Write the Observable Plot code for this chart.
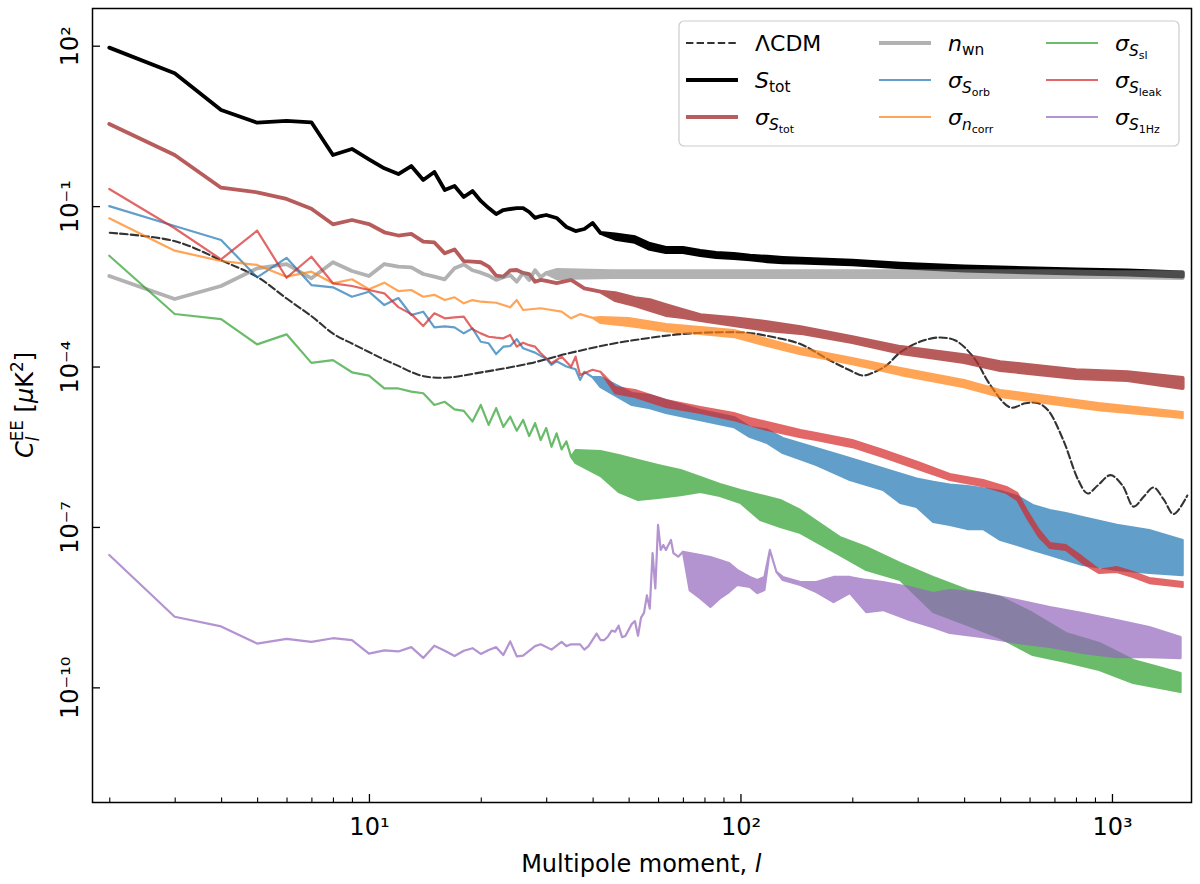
<!DOCTYPE html>
<html><head><meta charset="utf-8">
<script src="https://cdn.jsdelivr.net/npm/d3@7"></script>
<script src="https://cdn.jsdelivr.net/npm/@observablehq/plot@0.6"></script>
<style>
body{margin:0;background:#fff;}
#chart svg{display:block;}
text{white-space:pre;}
</style></head><body><div id="chart"></div>
<script>
// ---------- DATA (C_l^EE in muK^2, multipole l) ----------
// Lambda-CDM theory
const lcdm_l = [2,3,4,5,6,7,8,9,10,11,12,13,14,16,20,27,34,44,56,70,88,104,122,144,174,197,212,223,245,269,304,340,378,423,470,531,583,632,672,738,810,857,912,988,1064,1140,1215,1290,1375,1460,1590];
const lcdm_v = [0.0324,0.0225,0.00982,0.00479,0.00189,0.000881,0.000418,0.000272,0.000189,0.000136,0.000104,8.0e-5,6.73e-5,6.31e-5,7.94e-5,0.000117,0.000177,0.000264,0.000346,0.000417,0.000447,0.000437,0.000363,0.000272,0.000132,8.59e-5,6.93e-5,7.5e-5,0.000104,0.00019,0.000299,0.000356,0.000313,0.000151,4.51e-5,1.75e-5,2.1e-5,2.1e-5,1.53e-5,4.22e-6,7.55e-7,4.32e-7,6.08e-7,9.5e-7,6.08e-7,2.45e-7,3.8e-7,5.6e-7,3.3e-7,1.78e-7,3.95e-7];

// S_tot : low-l values, then high-l band (upper / lower envelope)
const stot_l = [2,3,4,5,6,7,8,9,10,11,12,13,14,15,16,17,18,19,20,21,22,23,24,25,26,27,28,29,30,32,34,36,38,40,42];
const stot_v = [92,30.5,6.27,3.63,3.91,3.69,0.904,1.17,0.75,0.509,0.398,0.562,0.308,0.435,0.2,0.238,0.148,0.191,0.125,0.092,0.0711,0.0845,0.0883,0.092,0.092,0.0776,0.0603,0.0653,0.0682,0.06,0.0407,0.0342,0.0373,0.0483,0.0314];
const stot_bl = [46,52,57,63,70,78,86,96,106,118,130,145,200,270,400,500,800,1100,1550];
const stot_bhi = [0.0295,0.0262,0.0196,0.0165,0.0165,0.0145,0.0134,0.0128,0.0118,0.0113,0.0108,0.0104,0.00952,0.00843,0.00745,0.00712,0.00655,0.00628,0.00575];
const stot_blo = [0.0245,0.0214,0.0158,0.0138,0.0138,0.0121,0.0111,0.0107,0.0101,0.0093,0.0089,0.0088,0.00815,0.00712,0.00625,0.00597,0.00548,0.00524,0.00481];

// sigma_{S_tot}
const sst_l = [2,3,4,5,6,7,8,9,10,11,12,13,14,15,16,17,18,19,20,21,22,23,24,25,26,27,28,29,30,32,35,38,42];
const sst_v = [3.44,0.904,0.221,0.181,0.136,0.0891,0.0457,0.055,0.0462,0.0324,0.0282,0.0302,0.0216,0.0209,0.0131,0.0155,0.00933,0.00912,0.00891,0.00741,0.00501,0.00479,0.00631,0.00638,0.00562,0.00537,0.00385,0.00417,0.00398,0.00363,0.00417,0.0029,0.00251];
const sst_bl = [46,52,57,63,70,78,96,118,145,200,270,400,500,800,1100,1550];
const sst_bhi = [0.00237,0.00191,0.00175,0.00141,0.00114,0.000918,0.000807,0.000679,0.000548,0.000356,0.000232,0.000164,0.000121,8.59e-5,7.89e-5,6.10e-5];
const sst_blo = [0.00175,0.00141,0.00114,0.000918,0.000843,0.000741,0.000597,0.000482,0.000424,0.000287,0.000179,0.000121,8.59e-5,6.10e-5,5.58e-5,3.96e-5];

// n_wn
const nwn_l = [2,3,4,5,6,7,8,9,10,11,12,13,14,15,16,17,18,19,20,21,22,23,24,25,26,27,28,29,30];
const nwn_v = [0.00493,0.00183,0.00321,0.00686,0.00826,0.00447,0.00891,0.00612,0.00493,0.00826,0.00736,0.00716,0.00537,0.00479,0.00427,0.00686,0.00813,0.00631,0.00569,0.00501,0.00417,0.00468,0.00513,0.00385,0.00562,0.00417,0.00631,0.00468,0.00562];
const nwn_bl = [32,45,60,80,110,150,250,400,700,1000,1550];
const nwn_bhi = [0.00638,0.00611,0.00611,0.00611,0.00611,0.00611,0.00611,0.00611,0.00611,0.00585,0.00585];
const nwn_blo = [0.00452,0.00472,0.00472,0.00472,0.00472,0.00472,0.00472,0.00472,0.00472,0.00472,0.00452];

// sigma_{S_orb}
const sorb_l = [2,3,4,5,6,7,8,9,10,11,12,13,14,15,16,17,18,19,20,21,22,23,24,25,26,27,28,29,30,31,32,34,36,37,38,40];
const sorb_v = [0.1,0.0425,0.0232,0.00466,0.0108,0.00334,0.00303,0.00202,0.00251,0.00141,0.00191,0.00092,0.00106,0.000541,0.000562,0.000541,0.000418,0.000518,0.000291,0.000272,0.000171,0.000235,0.000242,0.000324,0.000219,0.0002,0.000182,0.000158,0.000141,0.000107,0.000126,0.0001,8.91e-5,5.62e-5,7.94e-5,6.31e-5];
const sorb_bl = [42,51,57,63,78,96,106,118,130,160,197,242,269,298,330,366,408,450,501,556,612,680,751,833,1030,1260,1550];
const sorb_bhi = [6.35e-5,3.19e-5,2.93e-5,2.36e-5,1.53e-5,1.14e-5,7.4e-6,6.6e-6,4.6e-6,3.0e-6,1.95e-6,1.25e-6,1.0e-6,8.0e-7,7.0e-7,6.2e-7,5.8e-7,5.3e-7,4.7e-7,3.8e-7,2.57e-7,2.07e-7,1.82e-7,1.53e-7,1.09e-7,8.77e-8,5.70e-8];
const sorb_blo = [4.13e-5,1.91e-5,1.67e-5,1.35e-5,9.98e-6,7.38e-6,4.80e-6,3.71e-6,2.41e-6,1.44e-6,7.55e-7,4.91e-7,2.81e-7,2.36e-7,1.24e-7,1.09e-7,9.14e-8,9.14e-8,5.70e-8,4.59e-8,3.71e-8,2.99e-8,2.41e-8,1.94e-8,1.57e-8,1.38e-8,1.26e-8];

// sigma_{n_corr}
const ncorr_l = [2,3,4,5,6,7,8,9,10,11,12,13,14,15,16,17,18,19,20,22,24,25,26,29,31,33,35,37,40];
const ncorr_v = [0.0592,0.0147,0.0094,0.00794,0.00479,0.00594,0.0036,0.00428,0.00278,0.0037,0.00258,0.0027,0.00202,0.00219,0.00175,0.00197,0.00152,0.00175,0.00163,0.00156,0.00128,0.00175,0.00114,0.00123,0.00114,0.00106,0.000798,0.000955,0.000813];
const ncorr_bl = [42,50,63,78,96,118,145,200,270,400,500,920,1550];
const ncorr_bhi = [0.000843,0.000807,0.000624,0.000548,0.000482,0.000327,0.000222,0.000144,9.38e-5,5.58e-5,3.63e-5,2.07e-5,1.41e-5];
const ncorr_blo = [0.000652,0.000573,0.000461,0.000406,0.000356,0.000242,0.000171,0.000111,6.93e-5,4.13e-5,2.69e-5,1.53e-5,1.09e-5];

// sigma_{S_sl}
const ssl_l = [2,3,4,5,6,7,8,9,10,11,12,13,14,15,16,17,18,19,20,21,22,23,24,25,26,27,28,29,30,31,32,33,34,35];
const ssl_v = [0.0118,0.000959,0.000773,0.00026,0.0004,0.000117,0.000132,7.8e-5,6.75e-5,3.89e-5,3.89e-5,3.39e-5,3.16e-5,1.91e-5,2.19e-5,1.58e-5,1.48e-5,9.33e-6,1.91e-5,8.13e-6,1.66e-5,7.41e-6,1.15e-5,6.31e-6,1.0e-5,5.01e-6,8.71e-6,4.22e-6,7.08e-6,3.16e-6,5.62e-6,2.82e-6,3.98e-6,2.04e-6];
const ssl_bl = [36,42,47,53,60,69,78,88,100,113,128,145,185,218,269,330,408,501,612,751,924,1140,1530];
const ssl_bhi = [2.74e-6,2.63e-6,2.21e-6,1.78e-6,1.44e-6,1.16e-6,8.59e-7,6.35e-7,4.91e-7,3.95e-7,3.19e-7,2.07e-7,6.49e-8,4.21e-8,2.12e-8,1.16e-8,6.61e-9,4.89e-9,2.45e-9,1.04e-9,6.75e-10,3.24e-10,1.85e-10];
const ssl_blo = [1.57e-6,8.97e-7,4.50e-7,3.19e-7,3.48e-7,3.95e-7,4.50e-7,3.79e-7,2.81e-7,1.35e-7,9.98e-8,7.71e-8,2.99e-8,1.57e-8,1.02e-8,2.56e-9,1.47e-9,8.38e-10,4.03e-10,2.98e-10,2.11e-10,1.21e-10,8.18e-11];

// sigma_{S_leak}
const sleak_l = [2,3,4,5,6,7,8,9,10,11,12,13,14,15,16,17,18,19,20,21,22,23,24,25,26,27,28,29,31,33,35,36,37,40,42];
const sleak_v = [0.209,0.0385,0.0101,0.0347,0.00458,0.0113,0.0036,0.00321,0.0027,0.00234,0.00129,0.000955,0.000573,0.000989,0.000798,0.000832,0.000855,0.000501,0.000417,0.000361,0.000347,0.000337,0.000389,0.000235,0.000279,0.000251,0.000235,0.000177,0.000115,0.000153,9.93e-5,0.000153,6.93e-5,8.71e-5,8.0e-5];
const sleak_bl = [46,52,63,78,96,106,118,145,160,200,242,300,366,450,520,556,589,636,680,751,833,924,1030,1140,1260,1550];
const sleak_bhi = [4.13e-5,3.63e-5,2.36e-5,1.75e-5,1.35e-5,1.09e-5,9.14e-6,6.49e-6,5.70e-6,4.22e-6,2.74e-6,1.64e-6,9.77e-7,7.55e-7,5.58e-7,4.32e-7,2.07e-7,8.77e-8,5.01e-8,4.59e-8,2.74e-8,1.57e-8,1.78e-8,1.44e-8,1.11e-8,9.33e-9];
const sleak_blo = [3.19e-5,2.69e-5,1.75e-5,1.35e-5,9.98e-6,8.04e-6,6.49e-6,4.80e-6,4.22e-6,3.12e-6,2.03e-6,1.21e-6,7.55e-7,5.82e-7,4.32e-7,3.19e-7,1.53e-7,6.49e-8,4.04e-8,3.71e-8,2.12e-8,1.38e-8,1.44e-8,1.16e-8,8.93e-9,7.53e-9];

// sigma_{S_1Hz}
const s1hz_l = [2,3,4,5,6,7,8,9,10,11,12,13,14,15,16,17,18,19,20,21,22,23,24,25,26,28,29,31,33,34,35,37,38,39,41,42,43,44,45,46,47,48,49,51,52,53,54,55,56,57,58,59,60,61,62,63,65,66,68,70];
const s1hz_v = [2.99e-8,2.09e-9,1.38e-9,6.58e-10,8.05e-10,7.11e-10,8.30e-10,7.67e-10,4.28e-10,4.91e-10,4.70e-10,5.65e-10,3.55e-10,6.01e-10,4.84e-10,3.85e-10,4.84e-10,5.40e-10,4.22e-10,4.99e-10,5.65e-10,4.03e-10,7.23e-10,3.79e-10,3.91e-10,5.90e-10,6.38e-10,5.08e-10,7.11e-10,5.9e-10,6.38e-10,6.38e-10,5.08e-10,5.9e-10,1.01e-9,7.67e-10,7.67e-10,8.97e-10,1.15e-9,1.1e-9,1.42e-9,8.71e-10,9.12e-10,1.54e-9,1.73e-9,9.25e-10,2.02e-9,2.47e-9,5.24e-9,2.97e-9,3.24e-8,7.08e-9,1.09e-7,3.72e-8,4.59e-8,3.72e-8,5.70e-8,3.24e-8,2.78e-8,3.44e-8];
const s1hz_bl = [73,78,83,88,93,98,106,111,116,120,125,130,145,160,178,197,218,242,285,330,366,450,556,680,833,1030,1260,1530];
const s1hz_bhi = [3.26e-8,2.99e-8,2.74e-8,2.41e-8,2.12e-8,1.57e-8,1.16e-8,1.02e-8,1.16e-8,3.71e-8,1.44e-8,1.16e-8,9.33e-9,9.33e-9,1.16e-8,1.16e-8,1.02e-8,9.33e-9,7.53e-9,5.81e-9,6.61e-9,5.81e-9,4.30e-9,3.18e-9,2.45e-9,1.82e-9,1.34e-9,8.73e-10];
const s1hz_blo = [6.5e-9,4.6e-9,3.2e-9,4.6e-9,6.0e-9,8.20e-9,7.53e-9,5.81e-9,6.61e-9,3.71e-8,1.44e-8,1.02e-8,8.20e-9,6.07e-9,3.94e-9,5.81e-9,2.56e-9,2.79e-9,1.82e-9,1.34e-9,1.04e-9,8.73e-10,6.75e-10,5.68e-10,4.39e-10,3.69e-10,3.69e-10,3.53e-10];

// axis ticks
const xMajor = [10, 100, 1000];
const xMajorLabels = ["10\u00B9", "10\u00B2", "10\u00B3"];
const xMinor = [2,3,4,5,6,7,8,9,20,30,40,50,60,70,80,90,200,300,400,500,600,700,800,900];
const yMajor = [1e2, 1e-1, 1e-4, 1e-7, 1e-10];
const yMajorLabels = ["10\u00B2", "10\u207B\u00B9", "10\u207B\u2074", "10\u207B\u2077", "10\u207B\u00B9\u2070"];

// ---------- BUILD ----------
const W = 1200, H = 884, ML = 92, MR = 9, MT = 8, MB = 82;
const FW = W - ML - MR, FH = H - MT - MB;

function rows(l, v, bl, bhi, blo) {
  const r = l.map((x, i) => ({l: x, hi: v[i], lo: v[i]}));
  bl.forEach((x, i) => r.push({l: x, hi: bhi[i], lo: blo[i]}));
  return r;
}
const series = [
  {rows: rows(stot_l, stot_v, stot_bl, stot_bhi, stot_blo), color: "#000000", w: 3.8, op: 1},
  {rows: rows(sst_l, sst_v, sst_bl, sst_bhi, sst_blo), color: "#a63333", w: 3.8, op: 0.8},
  {rows: rows(nwn_l, nwn_v, nwn_bl, nwn_bhi, nwn_blo), color: "#7f7f7f", w: 3.8, op: 0.6},
  {rows: rows(sorb_l, sorb_v, sorb_bl, sorb_bhi, sorb_blo), color: "#1f77b4", w: 2.2, op: 0.7},
  {rows: rows(ncorr_l, ncorr_v, ncorr_bl, ncorr_bhi, ncorr_blo), color: "#ff7f0e", w: 2.2, op: 0.7},
  {rows: rows(ssl_l, ssl_v, ssl_bl, ssl_bhi, ssl_blo), color: "#2ca02c", w: 2.2, op: 0.7},
  {rows: rows(sleak_l, sleak_v, sleak_bl, sleak_bhi, sleak_blo), color: "#d62728", w: 2.2, op: 0.7},
  {rows: rows(s1hz_l, s1hz_v, s1hz_bl, s1hz_bhi, s1hz_blo), color: "#9467bd", w: 2.2, op: 0.7}
];
const lcdmRows = lcdm_l.map((l, i) => ({l, v: lcdm_v[i]}));

const marks = [];
marks.push(Plot.line(lcdmRows, {x: "l", y: "v", stroke: "#000", strokeOpacity: 0.8, strokeWidth: 2.1, strokeDasharray: "7.4,3.2", curve: "catmull-rom"}));
for (const s of series) {
  marks.push(Plot.areaY(s.rows, {x: "l", y1: "lo", y2: "hi", fill: s.color, stroke: s.color, strokeWidth: s.w,
    strokeLinejoin: "round", strokeLinecap: "round", opacity: s.op, curve: "linear"}));
}
marks.push(Plot.tickX(xMinor, {x: d => d, insetTop: FH - 4.5, stroke: "#000", strokeWidth: 1.1}));
marks.push(Plot.tickX(xMajor, {x: d => d, insetTop: FH - 8, stroke: "#000", strokeWidth: 1.3}));
marks.push(Plot.tickY(yMajor, {y: d => d, insetRight: FW - 8, stroke: "#000", strokeWidth: 1.3}));
marks.push(Plot.text(xMajor, {x: d => d, text: (d, i) => xMajorLabels[i], frameAnchor: "bottom", dy: 32, lineAnchor: "bottom", fontSize: 24, fill: "#000"}));
marks.push(Plot.text(yMajor, {y: d => d, text: (d, i) => yMajorLabels[i], frameAnchor: "left", dx: -15, rotate: -90, textAnchor: "middle", lineAnchor: "bottom", fontSize: 24, fill: "#000"}));
marks.push(Plot.frame({stroke: "#000", strokeWidth: 1.5}));

const plot = Plot.plot({
  width: W, height: H,
  marginLeft: ML, marginRight: MR, marginTop: MT, marginBottom: MB,
  style: {fontFamily: "DejaVu Sans", fontSize: "24px", background: "#fff", color: "#000"},
  x: {type: "log", domain: [1.797, 1632], axis: null},
  y: {type: "log", domain: [7.18e-13, 507], axis: null},
  marks
});
document.getElementById("chart").appendChild(plot);

// ---------- TEXT WITH SUB/SUPERSCRIPTS ----------
const svg = d3.select(plot);
function mtext(parent, x, y, parts, size, anchor) {
  const t = parent.append("text").attr("x", x).attr("y", y).attr("font-size", size)
    .attr("fill", "#000").attr("font-family", "DejaVu Sans").attr("text-anchor", "start");
  let cur = 0;
  for (const p of parts) {
    const target = (p.dy || 0) * size;
    const ts = t.append("tspan").text(p.t).attr("font-size", size * (p.s || 1)).attr("dy", target - cur);
    cur = target;
    if (p.it) ts.attr("font-style", "italic");
    if (p.dx) ts.attr("dx", p.dx);
  }
  if (anchor === "middle") {
    const w = t.node().getBBox().width;
    t.attr("x", x - w / 2);
  }
  return t;
}

// x axis label
mtext(svg, 641.5, 872, [{t: "Multipole moment, "}, {t: "l", it: true}], 24, "middle");
// y axis label (rotated)
const gy = svg.append("g").attr("transform", "translate(33,405) rotate(-90)");
mtext(gy, 0, 0, [
  {t: "C", it: true},
  {t: "l", it: true, s: 0.7, dy: 0.25},
  {t: "EE", s: 0.7, dy: -0.42, dx: -4.7},
  {t: " [", dy: 0},
  {t: "\u03BC", it: true},
  {t: "K"},
  {t: "2", s: 0.7, dy: -0.4},
  {t: "]", dy: 0}
], 24, "middle");

// ---------- LEGEND ----------
const lg = svg.append("g");
lg.append("rect").attr("x", 679).attr("y", 21).attr("width", 500).attr("height", 125).attr("rx", 5)
  .attr("fill", "#fff").attr("fill-opacity", 0.8).attr("stroke", "#cccccc").attr("stroke-width", 1.2);
const colH = [686, 879, 1046], colT = [755, 948, 1115], rowY = [43, 80, 117];
const sub1 = (main, s1) => [{t: main, it: true}, {t: s1, s: 0.7, dy: 0.2}];
const sub2 = (a, b) => [{t: "\u03C3", it: true}, {t: a, it: true, s: 0.7, dy: 0.22}, {t: b, s: 0.5, dy: 0.36}];
const legendItems = [
  {c: 0, r: 0, color: "#000", w: 2.1, op: 0.8, dash: "7.4,3.2", parts: [{t: "\u039BCDM"}]},
  {c: 0, r: 1, color: "#000", w: 3.8, op: 1, parts: sub1("S", "tot")},
  {c: 0, r: 2, color: "#a63333", w: 3.8, op: 0.8, parts: sub2("S", "tot")},
  {c: 1, r: 0, color: "#7f7f7f", w: 3.8, op: 0.6, parts: sub1("n", "wn")},
  {c: 1, r: 1, color: "#1f77b4", w: 2.2, op: 0.7, parts: sub2("S", "orb")},
  {c: 1, r: 2, color: "#ff7f0e", w: 2.2, op: 0.7, parts: sub2("n", "corr")},
  {c: 2, r: 0, color: "#2ca02c", w: 2.2, op: 0.7, parts: sub2("S", "sl")},
  {c: 2, r: 1, color: "#d62728", w: 2.2, op: 0.7, parts: sub2("S", "leak")},
  {c: 2, r: 2, color: "#9467bd", w: 2.2, op: 0.7, parts: sub2("S", "1Hz")}
];
for (const it of legendItems) {
  const y = rowY[it.r];
  const ln = lg.append("line").attr("x1", colH[it.c]).attr("x2", colH[it.c] + 52).attr("y1", y).attr("y2", y)
    .attr("stroke", it.color).attr("stroke-width", it.w).attr("stroke-opacity", it.op);
  if (it.dash) ln.attr("stroke-dasharray", it.dash);
  mtext(lg, colT[it.c], y + 8, it.parts, 22);
}
</script></body></html>
